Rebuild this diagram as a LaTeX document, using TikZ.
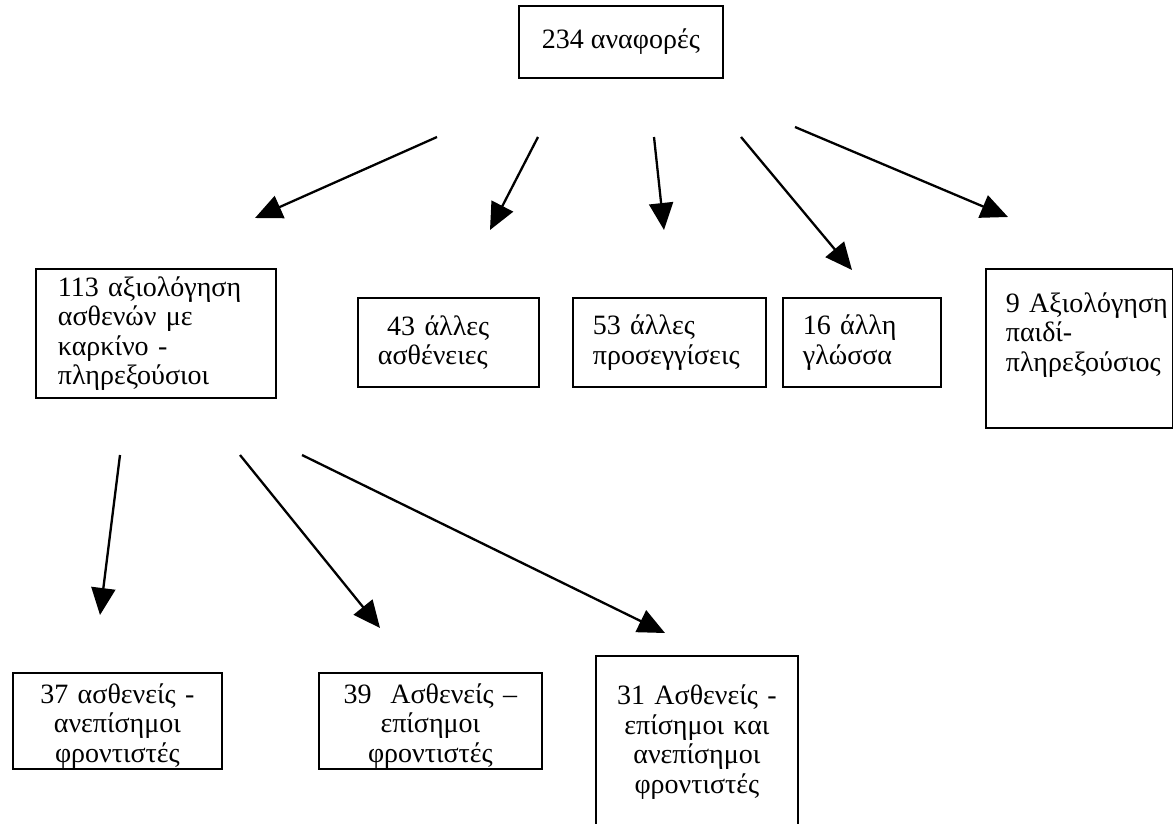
\documentclass[tikz,border=0pt]{standalone}
\usepackage{fontspec}
\setmainfont{Liberation Serif}
\usetikzlibrary{arrows.meta}

\begin{document}
\begin{tikzpicture}[x=1pt, y=-1pt, box/.style = {draw, line width=1.8pt, anchor=north west, inner xsep=20pt, inner ysep=0pt, font=\fontsize{28}{29.5}\selectfont}, mid/.style = {box, align=center, inner xsep=6pt}, arr/.style = {->, line width=2.3pt}, >={Triangle[length=27pt, width=24pt]}]
					\useasboundingbox (0,0) rectangle (1173,823);
					% top and middle row
					\node[mid, minimum width=204pt, minimum height=72pt] (total) at (518,5) {\mbox{234 αναφορές}};
					\node[box, align=left, text width=196pt, minimum height=129pt, inner xsep=22pt] (cancer) at (35,268) {\mbox{113 αξιολόγηση}\\\mbox{ασθενών με}\\\mbox{καρκίνο -}\\πληρεξούσιοι};
					\node[box, align=left, text width=141pt, minimum height=89pt] (disease) at (357,297) {\mbox{\ 43 άλλες}\\ασθένειες};
					\node[box, align=left, text width=153pt, minimum height=89pt] (approach) at (572,297) {\mbox{53 άλλες}\\προσεγγίσεις};
					\node[box, align=left, text width=118pt, minimum height=89pt] (language) at (782,297) {\mbox{16 άλλη}\\γλώσσα};
					\node[box, align=left, text width=147pt, minimum height=159pt, text depth=92pt] (child) at (985,268) {\mbox{9 Αξιολόγηση}\\\mbox{παιδί-}\\πληρεξούσιος};
					% bottom row
					\node[mid, text width=197pt, minimum height=96pt, text height=30pt] (informal) at (12,672) {\mbox{37 ασθενείς -}\\ανεπίσημοι\\φροντιστές};
					\node[mid, text width=211pt, minimum height=96pt, text height=30pt] (formal) at (318,672) {\mbox{39\ \ Ασθενείς –}\\επίσημοι\\φροντιστές};
					\node[mid, text width=190pt, minimum height=172pt] (both) at (595,655) {\mbox{31 Ασθενείς -}\\\mbox{επίσημοι και}\\ανεπίσημοι\\φροντιστές};
					% arrow ends
					\coordinate (s1) at (437,137);
					\coordinate (t1) at (255,218);
					\coordinate (s2) at (538,137);
					\coordinate (t2) at (490,230);
					\coordinate (s3) at (654,137);
					\coordinate (t3) at (664,230);
					\coordinate (s4) at (741,137);
					\coordinate (t4) at (852,270);
					\coordinate (s5) at (795,127);
					\coordinate (t5) at (1008,217);
					\coordinate (u1) at (120,455);
					\coordinate (v1) at (100,615);
					\coordinate (u2) at (240,455);
					\coordinate (v2) at (380,628);
					\coordinate (u3) at (302,455);
					\coordinate (v3) at (665,633);
					\draw[arr] (s1) -- (t1);
					\draw[arr] (s2) -- (t2);
					\draw[arr] (s3) -- (t3);
					\draw[arr] (s4) -- (t4);
					\draw[arr] (s5) -- (t5);
					\draw[arr] (u1) -- (v1);
					\draw[arr] (u2) -- (v2);
					\draw[arr] (u3) -- (v3);
				\end{tikzpicture}
\end{document}
